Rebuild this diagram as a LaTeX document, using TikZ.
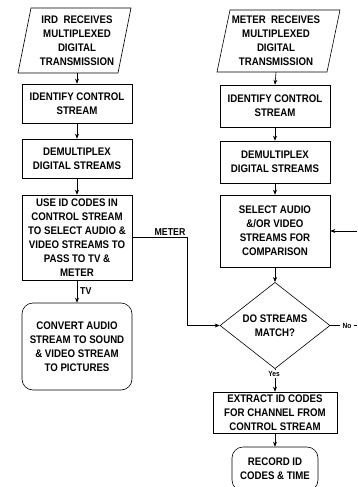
\documentclass[tikz,border=0pt]{standalone}
\usepackage{fontspec}
\setmainfont{Liberation Sans}[FakeStretch=0.88]
\usetikzlibrary{shapes.geometric,arrows.meta}
\begin{document}
\begin{tikzpicture}[x=1pt,y=-1pt,
  every node/.style={font=\fontsize{11}{14}\selectfont\bfseries, align=center, inner sep=0pt},
  ln/.style={line width=0.6pt},
  arr/.style={ln, -{Stealth[length=5pt,width=4pt]}},
  box/.style={draw, ln, minimum width=110pt, minimum height=#1},
  rbox/.style={box=#1, rounded corners=11pt},
  lbl/.style={font=\fontsize{10}{11}\selectfont\bfseries},
  small/.style={font=\fontsize{7.5}{8}\selectfont\bfseries}]
\useasboundingbox (0,0) rectangle (357,487);
\fill[white] (0,0) rectangle (357,487);

% left column
\draw[ln] (18,73) -- (118,73) -- (131,8) -- (31,8) -- cycle;
\node[minimum height=65pt, minimum width=90pt] (ird) at (77,40.5) {IRD\ \ RECEIVES\\MULTIPLEXED\\DIGITAL\\TRANSMISSION};
\node[box=39pt] (id1) at (77,103.5) {IDENTIFY CONTROL\\STREAM};
\node[box=39pt] (dm1) at (77,158.5) {DEMULTIPLEX\\DIGITAL STREAMS};
\node[box=85pt] (use) at (77,237.5) {USE ID CODES IN\\CONTROL STREAM\\TO SELECT AUDIO \&\\VIDEO STREAMS TO\\PASS TO TV \&\\METER};
\node[rbox=87pt] (conv) at (77,346.5) {CONVERT AUDIO\\STREAM TO SOUND\\\& VIDEO STREAM\\TO PICTURES};

\draw[arr] (ird.south) -- (id1.north);
\draw[arr] (id1.south) -- (dm1.north);
\draw[arr] (dm1.south) -- (use.north);
\draw[arr] (use.south) -- (conv.north);
\node[lbl, anchor=west] (tv) at (80,291) {TV};

% right column
\draw[ln] (217,72) -- (327,72) -- (340,10) -- (230,10) -- cycle;
\node[minimum height=62pt, minimum width=90pt] (mtr) at (276,41) {METER\ \ RECEIVES\\MULTIPLEXED\\DIGITAL\\TRANSMISSION};
\node[box=42pt] (id2) at (275,106) {IDENTIFY CONTROL\\STREAM};
\node[box=42pt] (dm2) at (275,162) {DEMULTIPLEX\\DIGITAL STREAMS};
\node[box=72pt] (sel) at (275,231) {SELECT AUDIO\\\&/OR VIDEO\\STREAMS FOR\\COMPARISON};
\node[diamond, draw, ln, minimum width=110pt, minimum height=85pt] (dia) at (275,325.5) {DO STREAMS\\MATCH?};
\node[box=41pt, minimum width=124pt] (ext) at (275,412.5) {EXTRACT ID CODES\\FOR CHANNEL FROM\\CONTROL STREAM};
\node[rbox=44pt, minimum width=86pt] (rec) at (275,469) {RECORD ID\\CODES \& TIME};

\draw[arr] (mtr.south) -- (id2.north);
\draw[arr] (id2.south) -- (dm2.north);
\draw[arr] (dm2.south) -- (sel.north);
\draw[arr] (sel.south) -- (dia.north);
\draw[arr] (dia.south) -- (ext.north);
\node[small, fill=white, inner sep=1pt] (yes) at (274,374) {Yes};
\draw[arr] (ext.south) -- (rec.north);

% METER branch into comparison
\coordinate (fb) at (187,325.5);
\draw[arr] (use.east) -| (fb) -- (dia.west);
\node[lbl, anchor=south] (meterlbl) at (170,236) {METER};

% No branch and feedback arrow
\node[small, inner sep=2pt] (no) at (347,325.5) {No};
\coordinate (noend) at (357,325.5);
\draw[ln] (dia.east) -- (no.west);
\draw[ln] (no.east) -- (noend);
\coordinate (fbin) at (357,231);
\draw[arr] (fbin) -- (sel.east);
\end{tikzpicture}
\end{document}
